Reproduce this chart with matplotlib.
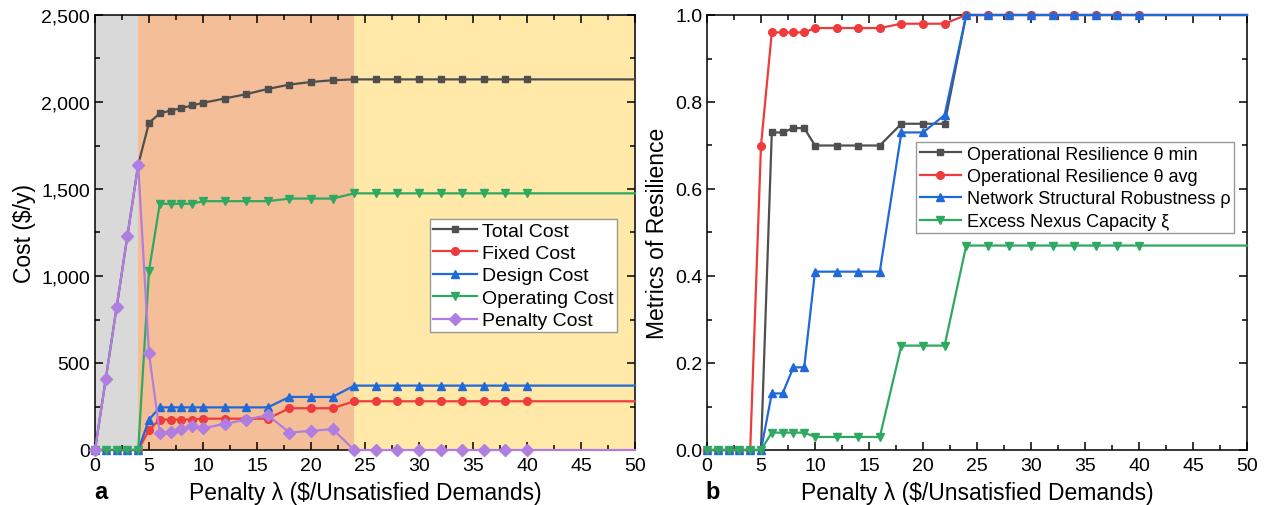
import matplotlib.pyplot as plt
from matplotlib.ticker import FuncFormatter, MultipleLocator

plt.rcParams['font.family'] = ['Liberation Sans', 'DejaVu Sans']

# ----- Data (penalty lambda); last point at 50 only extends the line
penalty = [0, 1, 2, 3, 4, 5, 6, 7, 8, 9, 10, 12, 14, 16, 18, 20, 22, 24,
           26, 28, 30, 32, 34, 36, 38, 40, 50]

total_cost = [0, 410, 820, 1230, 1640, 1880, 1935, 1950, 1965, 1980, 1995, 2020, 2045, 2075,
              2100, 2115, 2125, 2130, 2130, 2130, 2130, 2130, 2130, 2130, 2130, 2130, 2130]
fixed_cost = [0, 0, 0, 0, 0, 115, 175, 175, 175, 175, 180, 180, 180, 180,
              240, 240, 240, 280, 280, 280, 280, 280, 280, 280, 280, 280, 280]
design_cost = [0, 0, 0, 0, 0, 175, 245, 245, 245, 245, 245, 245, 245, 245,
               305, 305, 305, 370, 370, 370, 370, 370, 370, 370, 370, 370, 370]
operating_cost = [0, 0, 0, 0, 0, 1030, 1415, 1415, 1415, 1415, 1430, 1430, 1430, 1430,
                  1445, 1445, 1445, 1475, 1475, 1475, 1475, 1475, 1475, 1475, 1475, 1475, 1475]
penalty_cost = [0, 410, 820, 1230, 1640, 555, 95, 105, 120, 140, 125, 150, 175, 200,
                100, 110, 120, 0, 0, 0, 0, 0, 0, 0, 0, 0, 0]

theta_min = [0, 0, 0, 0, 0, 0, 0.73, 0.73, 0.74, 0.74, 0.70, 0.70, 0.70, 0.70,
             0.75, 0.75, 0.75, 1, 1, 1, 1, 1, 1, 1, 1, 1, 1]
theta_avg = [0, 0, 0, 0, 0, 0.70, 0.96, 0.96, 0.96, 0.96, 0.97, 0.97, 0.97, 0.97,
             0.98, 0.98, 0.98, 1, 1, 1, 1, 1, 1, 1, 1, 1, 1]
rho = [0, 0, 0, 0, 0, 0, 0.13, 0.13, 0.19, 0.19, 0.41, 0.41, 0.41, 0.41,
       0.73, 0.73, 0.77, 1, 1, 1, 1, 1, 1, 1, 1, 1, 1]
xi = [0, 0, 0, 0, 0, 0, 0.04, 0.04, 0.04, 0.04, 0.03, 0.03, 0.03, 0.03,
      0.24, 0.24, 0.24, 0.47, 0.47, 0.47, 0.47, 0.47, 0.47, 0.47, 0.47, 0.47, 0.47]

# shaded regimes
regions = [(0, 4, '#d9d9d9'), (4, 24, '#f4bf98'), (24, 50, '#ffe8a8')]

c_gray, c_red, c_blue, c_green, c_purple = '#4f4f4f', '#ee3b3b', '#2069d8', '#2fa862', '#b07ee0'
mark_idx = list(range(len(penalty) - 1))

fig = plt.figure(figsize=(12.65, 5.06), dpi=100)
ax1 = fig.add_axes([95 / 1265, 1 - 451 / 506, 540 / 1265, 435 / 506])
ax2 = fig.add_axes([707 / 1265, 1 - 451 / 506, 540 / 1265, 435 / 506])


def style_axis(ax):
    ax.set_xlim(0, 50)
    ax.xaxis.set_major_locator(MultipleLocator(5))
    ax.xaxis.set_minor_locator(MultipleLocator(2.5))
    ax.tick_params(which='both', direction='in', top=True, right=True, labelsize=14, width=1.1)
    ax.tick_params(which='major', length=6)
    ax.tick_params(which='minor', length=3.5)
    ax.tick_params(axis='x', pad=5)
    for s in ax.spines.values():
        s.set_linewidth(1.1)
    ax.set_xlabel('Penalty λ ($/Unsatisfied Demands)', fontsize=16.5, labelpad=5)


# ----- Panel a
for x0, x1, col in regions:
    ax1.axvspan(x0, x1, color=col, lw=0, zorder=0)

series_a = [(total_cost, 'Total Cost', c_gray, 's', 5),
            (fixed_cost, 'Fixed Cost', c_red, 'o', 5.5),
            (design_cost, 'Design Cost', c_blue, '^', 6),
            (operating_cost, 'Operating Cost', c_green, 'v', 6),
            (penalty_cost, 'Penalty Cost', c_purple, 'D', 6.2)]
for vals, lab, col, mk, ms in series_a:
    ax1.plot(penalty, vals, color=col, marker=mk, ms=ms, lw=1.6,
             markevery=mark_idx, label=lab, clip_on=False, zorder=3)

ax1.set_ylim(0, 2500)
ax1.yaxis.set_major_locator(MultipleLocator(500))
ax1.yaxis.set_minor_locator(MultipleLocator(250))
ax1.yaxis.set_major_formatter(FuncFormatter(lambda v, p: f'{int(v):,}'))
style_axis(ax1)
ax1.set_ylabel('Cost ($/y)', fontsize=16.5)
leg = ax1.legend(loc='upper left', bbox_to_anchor=(0.62, 0.531), fontsize=14, frameon=True,
                 fancybox=False, edgecolor='#999999', framealpha=1, borderpad=0.15,
                 labelspacing=0.25, handlelength=2.3, handletextpad=0.25, borderaxespad=0)
leg.get_frame().set_linewidth(1)

# ----- Panel b
series_b = [(theta_min, 'Operational Resilience θ min', c_gray, 's', 5),
            (theta_avg, 'Operational Resilience θ avg', c_red, 'o', 5.5),
            (rho, 'Network Structural Robustness ρ', c_blue, '^', 6),
            (xi, 'Excess Nexus Capacity ξ', c_green, 'v', 6)]
for vals, lab, col, mk, ms in series_b:
    ax2.plot(penalty, vals, color=col, marker=mk, ms=ms, lw=1.6,
             markevery=mark_idx, label=lab, clip_on=False, zorder=3)

ax2.set_ylim(0, 1.0)
ax2.yaxis.set_major_locator(MultipleLocator(0.2))
ax2.yaxis.set_minor_locator(MultipleLocator(0.1))
ax2.yaxis.set_major_formatter(FuncFormatter(lambda v, p: f'{v:.1f}'))
style_axis(ax2)
ax2.set_ylabel('Metrics of Resilience', fontsize=16.5)
leg2 = ax2.legend(loc='upper left', bbox_to_anchor=(0.387, 0.708), fontsize=13, frameon=True,
                  fancybox=False, edgecolor='#999999', framealpha=1, borderpad=0.2,
                  labelspacing=0.3, handlelength=2.3, handletextpad=0.3, borderaxespad=0)
leg2.get_frame().set_linewidth(1)

fig.text(101 / 1265, 1 - 493 / 506, 'a', fontsize=17, fontweight='bold', va='center', ha='center')
fig.text(713 / 1265, 1 - 493 / 506, 'b', fontsize=17, fontweight='bold', va='center', ha='center')

fig.savefig('out.png', dpi=100)
